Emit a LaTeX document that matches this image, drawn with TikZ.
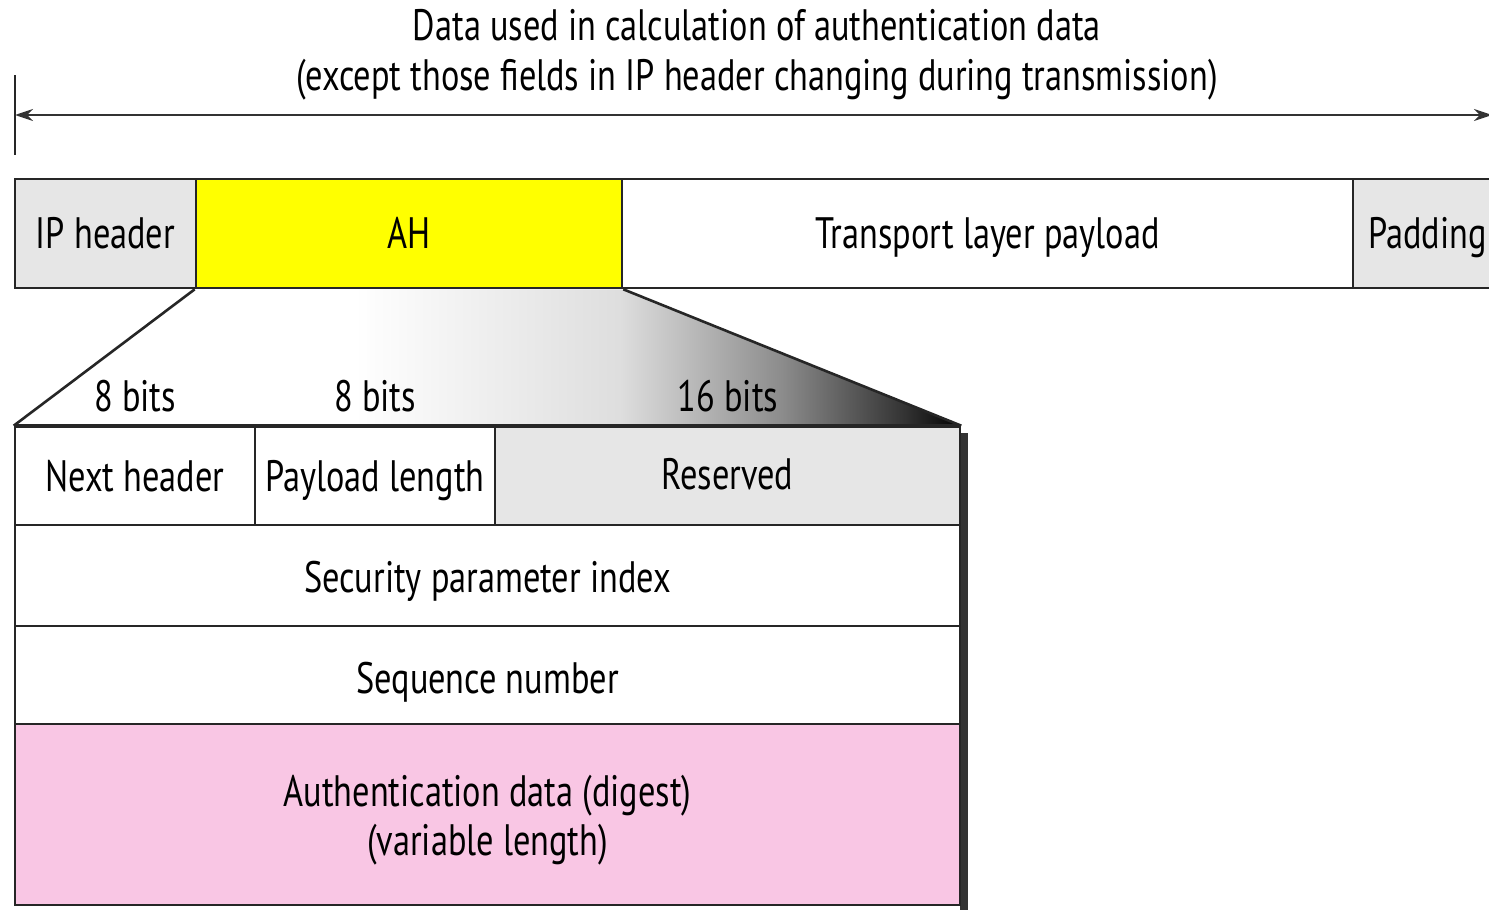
\documentclass[tikz,border=0pt]{standalone}
\usepackage{fontspec}
\setmainfont{PT Sans}[FakeStretch=0.78]
\usetikzlibrary{arrows.meta,fit}
\definecolor{lgray}{HTML}{E6E6E6}
\definecolor{ahyellow}{HTML}{FFFF00}
\definecolor{pinkish}{HTML}{F9C6E4}
\pgfdeclarehorizontalshading{trapshade}{100bp}{color(0bp)=(white); color(25bp)=(white); color(43bp)=(white); color(57bp)=(black!13); color(65.5bp)=(black!45); color(72bp)=(black!80); color(75bp)=(black); color(100bp)=(black)}
\begin{document}
\begin{tikzpicture}[x=0.5pt,y=-0.5pt,
  txt/.style={font=\fontsize{22}{25}\selectfont, inner sep=0pt, anchor=base},
  field/.style={draw=black!85, line width=1.3pt, inner sep=0pt},
  arr/.style={line width=1.1pt, draw=black!80, {Stealth[length=9pt,width=6pt]}-{Stealth[length=9pt,width=6pt]}}
]
\useasboundingbox (0,0) rectangle (1489,910);
% title
\node[txt] (title1) at (757,40) {Data used in calculation of authentication data};
\node[txt] (title2) at (757,90) {(except those fields in IP header changing during transmission)};
% span arrow
\coordinate (tt) at (15,75);
\coordinate (tb) at (15,155);
\coordinate (al) at (15,115);
\coordinate (ar) at (1492,115);
\draw[line width=1.3pt, black!85] (tt) -- (tb);
\draw[arr] (al) -- (ar);
% top row
\node[field, fill=lgray, fit={(15,179) (196,288)}] (ip) {};
\node[field, fill=ahyellow, fit={(196,179) (622,288)}] (ah) {};
\node[field, fill=white, fit={(622,179) (1353,288)}] (tp) {};
\node[field, fill=lgray, fit={(1353,179) (1530,288)}] (pad) {};
\node[txt] (ipt) at (ip.center |- 0,248) {IP header};
\node[txt] (aht) at (ah.center |- 0,248) {AH};
\node[txt] (tpt) at (tp.center |- 0,248) {Transport layer payload};
\node[txt, anchor=base west] (padt) at (1368,248) {Padding};
% shadow
\fill[black!80] (960,433) rectangle (968,912);
% table
\node[field, fill=white, fit={(15,427) (255,525)}] (nh) {};
\node[field, fill=white, fit={(255,427) (495,525)}] (pl) {};
\node[field, fill=lgray, fit={(495,427) (960,525)}] (res) {};
\node[field, fill=white, fit={(15,525) (960,626)}] (spi) {};
\node[field, fill=white, fit={(15,626) (960,724)}] (seq) {};
\node[field, fill=pinkish, fit={(15,724) (960,905)}] (auth) {};
\node[txt] (nht) at (nh.center |- 0,491) {Next header};
\node[txt] (plt) at (pl.center |- 0,491) {Payload length};
\node[txt] (rest) at (res.center |- 0,489) {Reserved};
\node[txt] (spit) at (spi.center |- 0,592) {Security parameter index};
\node[txt] (seqt) at (seq.center |- 0,693) {Sequence number};
\node[txt] (autht1) at (auth.center |- 0,806) {Authentication data (digest)};
\node[txt] (autht2) at (auth.center |- 0,855) {(variable length)};
% trapezoid
\shade[shading=trapshade] (ah.south west) -- (nh.north west) -- (res.north east) -- (ah.south east) -- cycle;
\draw[line width=1.3pt, black!85] (ah.south west) -- (nh.north west);
\draw[line width=1.3pt, black!85] (ah.south east) -- (res.north east);
\draw[line width=1.3pt, black!85] (nh.north west) -- (res.north east);
% bit labels
\node[txt] (b1) at (135,411) {8 bits};
\node[txt] (b2) at (375,411) {8 bits};
\node[txt] (b3) at (728,411) {16 bits};
\end{tikzpicture}
\end{document}
